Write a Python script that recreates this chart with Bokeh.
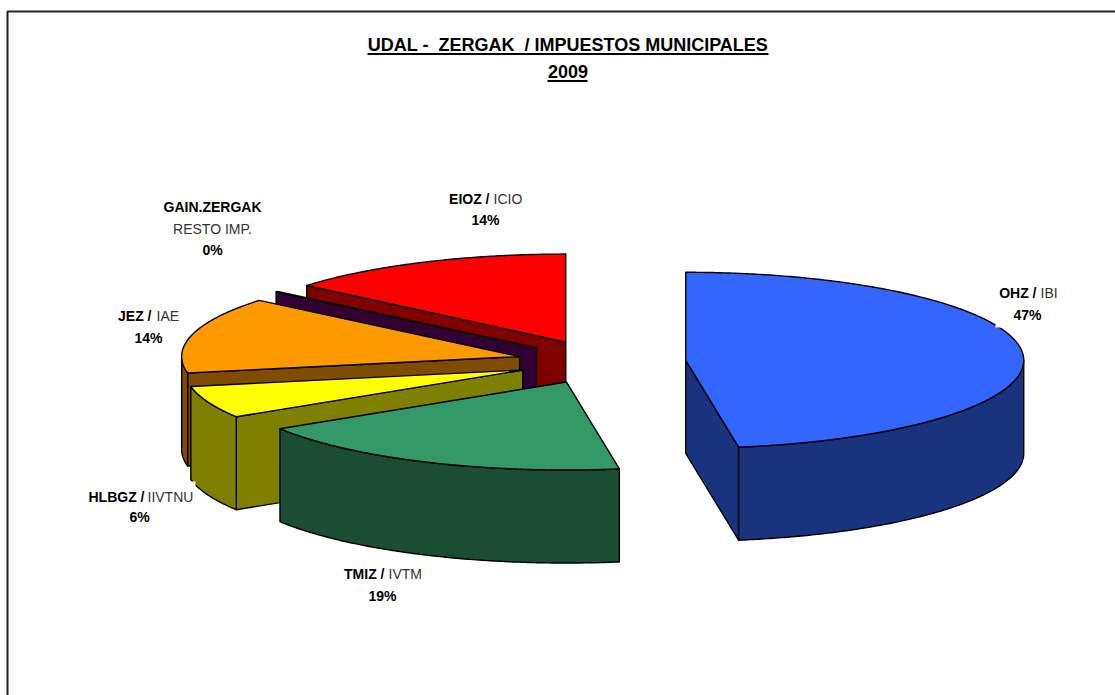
import numpy as np
from bokeh.plotting import figure
from bokeh.core.properties import value
from bokeh.embed import file_html
from bokeh.resources import INLINE

# --- data ---
categories = ["OHZ / IBI", "TMIZ / IVTM", "HLBGZ / IIVTNU", "JEZ / IAE", "GAIN.ZERGAK RESTO IMP.", "EIOZ / ICIO"]
shares = [47.5, 18.6, 5.9, 14.0, 0.1, 13.9]
percent_labels = ["47%", "19%", "6%", "14%", "0%", "14%"]
top_colors = ["#3366FF", "#339966", "#FFFF00", "#FF9900", "#660066", "#FF0000"]
side_colors = ["#1A337F", "#1A4D33", "#808000", "#804D00", "#330033", "#800000"]
title_lines = ["UDAL - \u00a0ZERGAK \u00a0/ IMPUESTOS MUNICIPALES", "2009"]

# --- pie layout ---
CX, CY, RX, RY, DEPTH, EXPLODE = 601.0, 361.5, 338.0, 88.0, 93.0, 0.25
W, H = 1115, 695
FONT = value("Liberation Sans")

p = figure(width=W, height=H, x_range=(0, W), y_range=(H, 0), toolbar_location=None,
           output_backend="svg", min_border=0, outline_line_color=None,
           background_fill_color="white", border_fill_color="white",
           styles={"position": "absolute", "left": "0px", "top": "0px"})
p.xaxis.visible = False
p.yaxis.visible = False
p.grid.visible = False

# chart-area frame
p.line([7, 7, W], [H, 11, 11], line_color="#222222", line_width=2)

# slices from the values
edges = np.concatenate([[0], np.cumsum(shares)]) / np.sum(shares) * 360.0


def rim(ax, ay, a):
    r = np.radians(a)
    return ax + RX * np.sin(r), ay - RY * np.cos(r)


slices = []
for i in range(len(shares)):
    a0, a1 = edges[i], edges[i + 1]
    mid = np.radians((a0 + a1) / 2)
    ax = CX + EXPLODE * RX * np.sin(mid)
    ay = CY - EXPLODE * RY * np.cos(mid)
    slices.append((i, a0, a1, ax, ay))

order = [5, 4, 3, 2, 1, 0]
LW = 1.4
for i in order:
    _, a0, a1, ax, ay = slices[i]
    top, side = top_colors[i], side_colors[i]
    # radial faces that look toward the viewer
    faces = []
    if np.sin(np.radians(a0)) < -1e-9:
        faces.append(a0)
    if np.sin(np.radians(a1)) > 1e-9:
        faces.append(a1)
    for a in faces:
        ex, ey = rim(ax, ay, a)
        p.patch([ax, ex, ex, ax], [ay, ey, ey + DEPTH, ay + DEPTH],
                fill_color=side, line_color="black", line_width=LW, line_join="round")
    # outer wall (front half only)
    w0, w1 = max(a0, 90.0), min(a1, 270.0)
    if w1 > w0:
        t = np.linspace(w0, w1, int((w1 - w0) * 2) + 2)
        ex, ey = rim(ax, ay, t)
        p.patch(np.r_[ex, ex[::-1]], np.r_[ey, ey[::-1] + DEPTH],
                fill_color=side, line_color="black", line_width=LW, line_join="round")
    # top surface
    t = np.linspace(a0, a1, max(int((a1 - a0) * 2) + 2, 3))
    ex, ey = rim(ax, ay, t)
    p.patch(np.r_[ax, ex], np.r_[ay, ey], fill_color=top, line_color="black",
            line_width=LW, line_join="round")

# white label boxes that cut into the pie
p.quad(left=[995, 84], right=[1060, 195], top=[282, 481], bottom=[327, 526],
       fill_color="white", line_color=None)

# title
TS = "18px"
p.text([567.5], [44.5], text=[title_lines[0]], text_font=FONT, text_font_size=TS, text_font_style="bold",
       text_align="center", text_baseline="middle", text_color="black")
p.text([567.5], [70.5], text=[title_lines[1]], text_font=FONT, text_font_size=TS, text_font_style="bold",
       text_align="center", text_baseline="middle", text_color="black")
p.segment([367, 547], [53.5, 80.5], [768, 587], [53.5, 80.5], line_color="black", line_width=2)

# labels: bold part ends at x_b, regular part starts at x_r
LS = "14px"
bold_parts = ["OHZ /", "TMIZ /", "HLBGZ /", "JEZ /", "EIOZ /"]
reg_parts = ["IBI", "IVTM", "IIVTNU", "IAE", "ICIO"]
x_b = [1036, 384, 144, 151, 489]
x_r = [1040, 388, 147, 156, 493]
y_l = [292, 573, 496, 315, 198]
p.text(x_b, y_l, text=bold_parts, text_font=FONT, text_font_size=LS, text_font_style="bold",
       text_align="right", text_baseline="middle", text_color="black")
p.text(x_r, y_l, text=reg_parts, text_font=FONT, text_font_size=LS,
       text_align="left", text_baseline="middle", text_color="#333333")
p.text([212], [206], text=["GAIN.ZERGAK"], text_font=FONT, text_font_size=LS, text_font_style="bold",
       text_align="center", text_baseline="middle", text_color="black")
p.text([212], [228], text=["RESTO IMP."], text_font=FONT, text_font_size=LS,
       text_align="center", text_baseline="middle", text_color="#333333")
p.text([1027, 382, 139, 148, 212, 485], [314, 595, 516, 337, 249, 219], text=percent_labels,
       text_font=FONT, text_font_size=LS, text_font_style="bold",
       text_align="center", text_baseline="middle", text_color="black")

open("out.html", "w").write(file_html(p, INLINE))
